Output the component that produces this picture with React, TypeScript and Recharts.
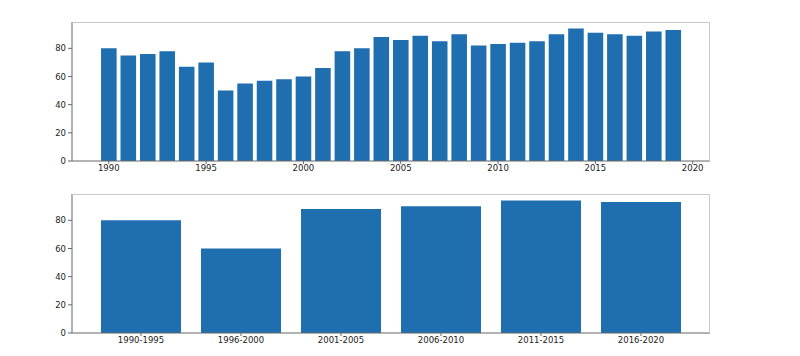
import { Bar, BarChart, XAxis, YAxis } from "recharts";

const YEARS = [
  1990, 1991, 1992, 1993, 1994, 1995, 1996, 1997, 1998, 1999, 2000, 2001, 2002, 2003, 2004,
  2005, 2006, 2007, 2008, 2009, 2010, 2011, 2012, 2013, 2014, 2015, 2016, 2017, 2018, 2019,
];
const YEAR_VALUES = [
  80, 75, 76, 78, 67, 70, 50, 55, 57, 58, 60, 66, 78, 80, 88,
  86, 89, 85, 90, 82, 83, 84, 85, 90, 94, 91, 90, 89, 92, 93,
];
const PERIODS = ["1990-1995", "1996-2000", "2001-2005", "2006-2010", "2011-2015", "2016-2020"];
const PERIOD_VALUES = [80, 60, 88, 90, 94, 93];
const YEAR_TICKS = [1990, 1995, 2000, 2005, 2010, 2015, 2020];
const Y_TICKS = [0, 20, 40, 60, 80];

const THEME = {
  bar: "#1f6eb0",
  spine: "#666",
  spineLight: "#c8c8c8",
  text: "#222",
  font: "DejaVu Sans, sans-serif",
};

const PLOT_LEFT = 72;
const PLOT_RIGHT = 710;
const PLOT_W = PLOT_RIGHT - PLOT_LEFT;

const yearData = YEARS.map((year, i) => ({ year, value: YEAR_VALUES[i] }));
const periodData = PERIODS.map((period, i) => ({ period, value: PERIOD_VALUES[i] }));

// matplotlib-style 5% margins
const xSpan = YEARS[YEARS.length - 1] - YEARS[0] + 0.8;
const xPad = xSpan * 0.05;
const xDomain: [number, number] = [YEARS[0] - 0.4 - xPad, YEARS[YEARS.length - 1] + 0.4 + xPad];
const yearBarSize = (PLOT_W * 0.8) / (xDomain[1] - xDomain[0]);
const yMaxTop = Math.max(...YEAR_VALUES) * 1.05;
const yMaxBottom = Math.max(...PERIOD_VALUES) * 1.05;

const catUnit = PLOT_W / (PERIODS.length - 1 + 0.8 + (PERIODS.length - 1 + 0.8) * 0.1);
const catPad = (0.4 + (PERIODS.length - 1 + 0.8) * 0.05) * catUnit - catUnit / 2;

const tickStyle = { fontSize: 8.5, fill: THEME.text, fontFamily: THEME.font };

function Frame({ top, height }: { top: number; height: number }) {
  return (
    <div
      style={{
        position: "absolute",
        left: PLOT_LEFT,
        top,
        width: PLOT_W,
        height,
        borderTop: `1px solid ${THEME.spineLight}`,
        borderRight: `1px solid ${THEME.spineLight}`,
        boxSizing: "border-box",
        pointerEvents: "none",
      }}
    />
  );
}

export default function App() {
  return (
    <div style={{ position: "absolute", left: 0, top: 0, width: 800, height: 356, background: "#fff" }}>
      <div style={{ position: "absolute", left: 0, top: 0 }}>
        <BarChart
          width={800}
          height={180}
          data={yearData}
          margin={{ top: 22, right: 800 - PLOT_RIGHT, left: PLOT_LEFT - 40, bottom: 0 }}
        >
          <XAxis
            dataKey="year"
            type="number"
            domain={xDomain}
            ticks={YEAR_TICKS}
            allowDataOverflow
            height={19}
            tick={tickStyle}
            tickSize={3}
            tickMargin={1}
            stroke={THEME.spine}
          />
          <YAxis
            domain={[0, yMaxTop]}
            ticks={Y_TICKS}
            allowDataOverflow
            width={40}
            tick={tickStyle}
            tickSize={4}
            tickMargin={2}
            stroke={THEME.spine}
          />
          <Bar dataKey="value" fill={THEME.bar} barSize={yearBarSize} isAnimationActive={false} />
        </BarChart>
      </div>
      <Frame top={22} height={139} />
      <div style={{ position: "absolute", left: 0, top: 176 }}>
        <BarChart
          width={800}
          height={180}
          data={periodData}
          margin={{ top: 18, right: 800 - PLOT_RIGHT, left: PLOT_LEFT - 40, bottom: 0 }}
        >
          <XAxis
            dataKey="period"
            padding={{ left: catPad, right: catPad }}
            height={23}
            tick={tickStyle}
            tickSize={3}
            tickMargin={1}
            stroke={THEME.spine}
            interval={0}
          />
          <YAxis
            domain={[0, yMaxBottom]}
            ticks={Y_TICKS}
            allowDataOverflow
            width={40}
            tick={tickStyle}
            tickSize={4}
            tickMargin={2}
            stroke={THEME.spine}
          />
          <Bar dataKey="value" fill={THEME.bar} barSize={catUnit * 0.8} isAnimationActive={false} />
        </BarChart>
      </div>
      <Frame top={194} height={139} />
    </div>
  );
}
